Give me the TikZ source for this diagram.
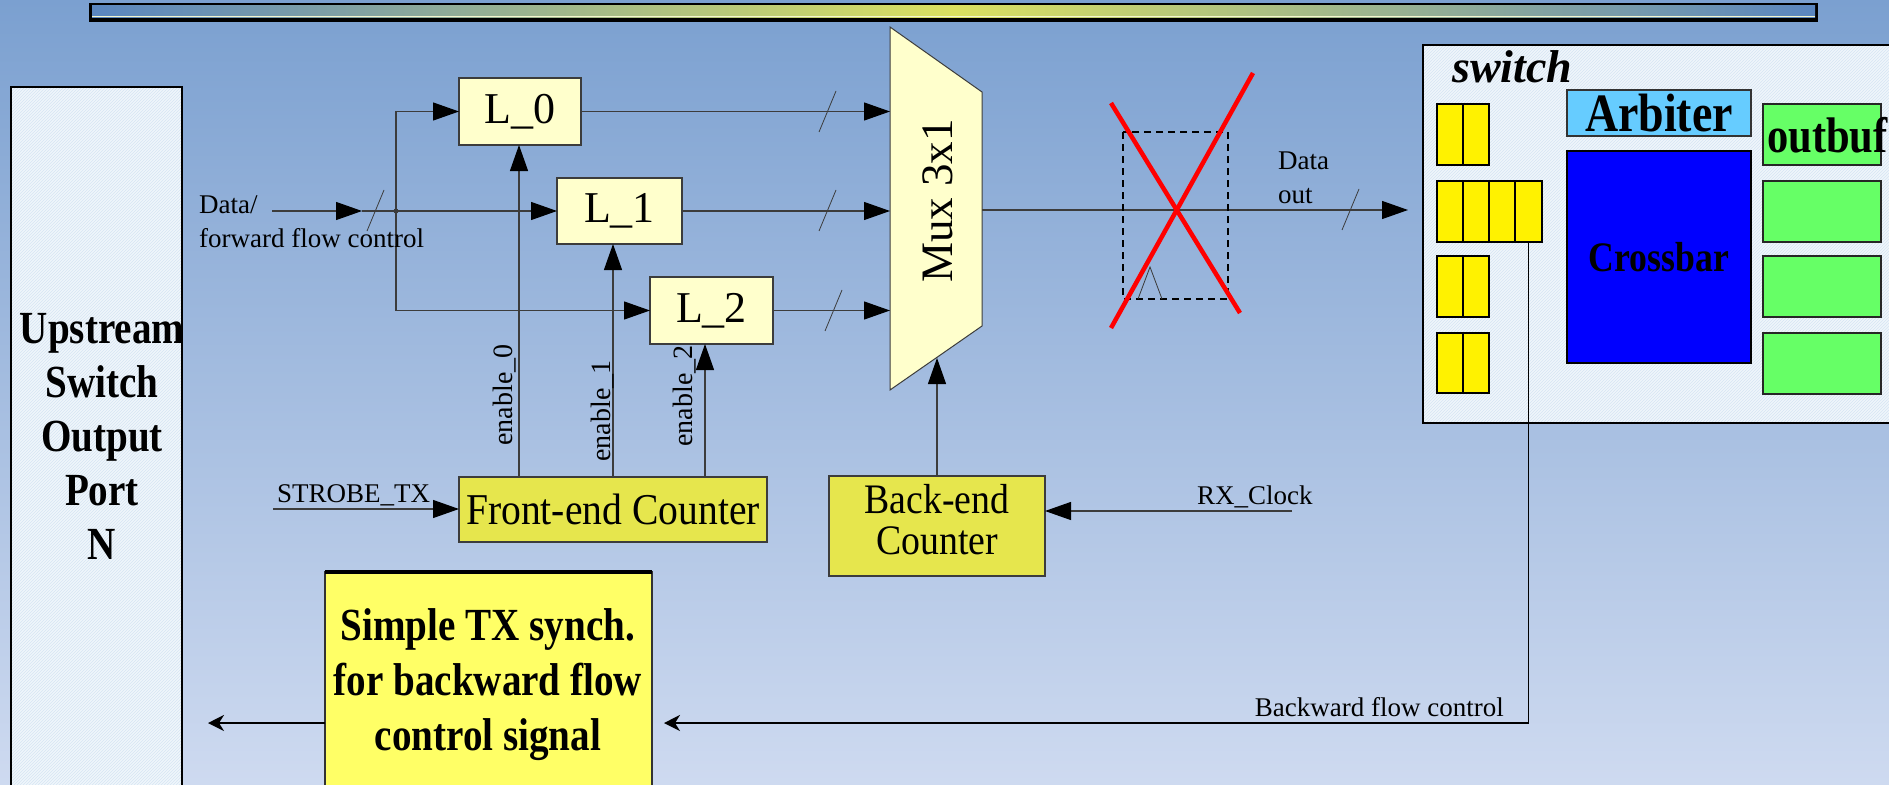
\documentclass[tikz,border=0pt]{standalone}
\usepackage{fontspec}
\setmainfont{Liberation Serif}
\newfontfamily\cond[FakeStretch=0.9]{Liberation Serif}
\newfontfamily\bcond[FakeStretch=0.85]{Liberation Serif}
\usetikzlibrary{arrows.meta,calc,patterns}
\definecolor{bgtop}{RGB}{123,160,208}
\definecolor{bgbot}{RGB}{206,218,240}
\definecolor{lyel}{RGB}{255,255,204}
\definecolor{cnt}{RGB}{230,230,77}
\definecolor{stx}{RGB}{255,255,102}
\definecolor{pale}{RGB}{240,246,251}
\definecolor{hatch}{RGB}{214,228,243}
\definecolor{arb}{RGB}{102,204,255}
\definecolor{xbar}{RGB}{0,0,255}
\definecolor{obuf}{RGB}{102,255,102}
\definecolor{wire}{RGB}{60,60,60}
\definecolor{barblue}{RGB}{90,134,192}
\definecolor{baryel}{RGB}{218,224,96}
\begin{document}
\begin{tikzpicture}[x=1pt,y=-1pt,
  ln/.style={draw=wire,line width=1.2pt},
  arr/.style={-{Triangle[length=26pt,width=18pt,color=black]}},
  sarr/.style={-{Stealth[length=16pt,width=16pt,inset=5pt]}},
  slash/.style={draw=wire,line width=0.8pt},
  box/.style={anchor=north west,inner sep=0pt,outer sep=0pt},
  hatched/.style={preaction={fill=pale},pattern=north east lines,pattern color=hatch},
  lbox/.style={box,draw=wire,line width=1.2pt,fill=lyel,font=\fontsize{44}{44}\selectfont},
  cbox/.style={box,draw=wire,line width=1.5pt,fill=cnt,font=\cond\fontsize{44}{39}\selectfont,align=center},
  small/.style={inner sep=0pt,font=\fontsize{27}{34}\selectfont},
  buf/.style={draw=black,line width=2pt,fill=yellow},
  bufn/.style={box,draw=black,line width=2pt,fill=yellow,minimum width=27pt,minimum height=61pt},
  obufn/.style={box,draw=black!85,line width=2pt,fill=obuf,minimum width=118pt,minimum height=61pt},
  btext/.style={font=\bcond\bfseries\fontsize{46}{55}\selectfont,align=center}
]
\useasboundingbox (0,0) rectangle (1889,784);
\shade[top color=bgtop,bottom color=bgbot] (0,0) rectangle (1889,784);
% top bar
\fill[black] (89,3) rectangle (1818,22);
\shade[left color=barblue,right color=barblue,middle color=baryel] (92,6) rectangle (1815,18);
\draw[white!70!baryel,line width=1pt] (92,17) -- (1815,17);
% upstream
\node[box,draw=black,line width=1.2pt,hatched,minimum width=171pt,minimum height=720pt] (up) at (11,87) {};
\node[btext,font=\bcond\bfseries\fontsize{46}{54}\selectfont] (uptext) at (102,436) {Upstream\\Switch\\Output\\Port\\N};
% L boxes
\node[lbox,minimum width=122pt,minimum height=67pt] (L0) at (459,78) {L\_0};
\node[lbox,minimum width=125pt,minimum height=66pt] (L1) at (557,178) {L\_1};
\node[lbox,minimum width=123pt,minimum height=67pt] (L2) at (650,277) {L\_2};
% mux
\coordinate (m1) at (890,27);
\coordinate (m2) at (982,92);
\coordinate (m3) at (982,326);
\coordinate (m4) at (890,390);
\draw[draw=wire,fill=lyel,line width=1pt] (m1) -- (m2) -- (m3) -- (m4) -- cycle;
\node[rotate=90,font=\fontsize{45}{45}\selectfont] (muxt) at (938,201) {Mux 3x1};
\coordinate (mi) at (890,0);
\coordinate (mo) at (982,210);
\coordinate (mb) at (937,358);
% data input
\coordinate (din) at (272,211);
\coordinate (dmid) at (362,211);
\coordinate (dot) at (396,211);
\draw[ln,arr] (din) -- (dmid);
\draw[ln] (dmid) -- (dot);
\fill[wire] (dot) circle (2.5pt);
\draw[slash] (367,231) -- (384,190);
\draw[ln,arr] (dot) |- (L0.west);
\draw[ln,arr] (dot) -- (L1.west);
\draw[ln,arr] (dot) |- (L2.west);
\node[small,anchor=west,align=left] (dinl) at (199,222) {Data/\\forward flow control};
% L outputs
\draw[ln,arr] (L0.east) -- (L0.east -| mi);
\draw[ln,arr] (L1.east) -- (L1.east -| mi);
\draw[ln,arr] (L2.east) -- (L2.east -| mi);
\draw[slash] (819,132) -- (836,91);
\draw[slash] (819,231) -- (836,190);
\draw[slash] (825,331) -- (842,290);
% front-end counter
\node[cbox,minimum width=308pt,minimum height=65pt] (FE) at (459,477) {Front-end Counter};
\coordinate (e0) at (519,477);
\coordinate (e1) at (613,477);
\coordinate (e2) at (705,477);
\draw[ln,arr] (e0) -- (e0 |- L0.south);
\draw[ln,arr] (e1) -- (e1 |- L1.south);
\draw[ln,arr] (e2) -- (e2 |- L2.south);
\node[rotate=90,inner sep=0pt,font=\fontsize{28}{28}\selectfont] (en0) at (505,395) {enable\_0};
\node[rotate=90,inner sep=0pt,font=\fontsize{28}{28}\selectfont] (en1) at (603,411) {enable\_1};
\node[rotate=90,inner sep=0pt,font=\fontsize{28}{28}\selectfont] (en2) at (685,396) {enable\_2};
\coordinate (st) at (273,509);
\draw[ln,arr] (st) -- (st -| FE.west);
\node[small,anchor=base west] (stl) at (277,502) {STROBE\_TX};
% back-end counter
\node[cbox,minimum width=216pt,minimum height=100pt] (BE) at (829,476) {};
\node[font=\cond\fontsize{42}{41}\selectfont,align=center,inner sep=0pt] (BEt) at (937,520) {Back-end\\Counter};
\draw[ln,arr] (BE.north) -- (mb);
\coordinate (rx) at (1292,511);
\draw[ln,arr] (rx) -- (rx -| BE.east);
\node[small,anchor=base west] (rxl) at (1197,504) {RX\_Clock};
% data out
\coordinate (dout) at (1408,210);
\draw[ln,arr] (mo) -- (dout);
\draw[slash] (1342,230) -- (1359,189);
\node[small,anchor=west,align=left] (doutl) at (1278,178) {Data\\out};
% crossed register
\draw[black,line width=1.3pt,dash pattern=on 7pt off 5pt] (1123,132) rectangle (1228,299);
\draw[wire,line width=0.8pt] (1138,299) -- (1150,267) -- (1162,299);
\draw[red,line width=4.5pt] (1111,103) -- (1240,313);
\draw[red,line width=4.5pt] (1253,73) -- (1111,328);
% switch
\node[box,draw=black,line width=2pt,hatched,minimum width=500pt,minimum height=378pt] (sw) at (1423,45) {};
\node[anchor=base west,inner sep=0pt,font=\bfseries\itshape\fontsize{46}{46}\selectfont] (swl) at (1452,82) {switch};
\draw[buf] (1437,104) rectangle (1463,165);
\draw[buf] (1463,104) rectangle (1489,165);
\draw[buf] (1437,181) rectangle (1463,242);
\draw[buf] (1463,181) rectangle (1489,242);
\draw[buf] (1489,181) rectangle (1515,242);
\node[bufn] (b2c4) at (1515,181) {};
\draw[buf] (1437,256) rectangle (1463,317);
\draw[buf] (1463,256) rectangle (1489,317);
\draw[buf] (1437,333) rectangle (1463,393);
\draw[buf] (1463,333) rectangle (1489,393);
\node[box,draw=black!80,line width=2pt,fill=arb,minimum width=184pt,minimum height=46pt,font=\bcond\bfseries\fontsize{54}{54}\selectfont] (arb) at (1567,90) {Arbiter};
\node[box,draw=black,line width=2pt,fill=xbar,minimum width=184pt,minimum height=212pt,font=\bcond\bfseries\fontsize{42}{42}\selectfont] (xb) at (1567,151) {Crossbar};
\node[obufn] (ob1) at (1763,104) {};
\node[obufn] (ob2) at (1763,181) {};
\node[obufn] (ob3) at (1763,256) {};
\node[obufn] (ob4) at (1763,333) {};
\node[anchor=base west,inner sep=0pt,font=\bcond\bfseries\fontsize{50}{50}\selectfont] (obl) at (1767,152) {outbuf};
% simple TX synch
\node[box,draw=black!80,line width=1.2pt,fill=stx,minimum width=327pt,minimum height=230pt] (STX) at (325,572) {};
\draw[black,line width=4pt] (STX.north west) -- (STX.north east);
\node[btext] (stxt) at (488,685) {Simple TX synch.\\for backward flow\\control signal};
\coordinate (bfy) at (0,723);
\coordinate (upl) at (208,723);
\draw[black,line width=1.4pt] (b2c4.south) -- (b2c4.south |- bfy);
\draw[black,line width=1.8pt,sarr,shorten >=12pt] (b2c4.south |- bfy) -- (STX.east |- bfy);
\draw[black,line width=1.8pt,sarr] (STX.west |- bfy) -- (upl);
\node[small,anchor=base east] (bfl) at (1504,716) {Backward flow control};
\end{tikzpicture}
\end{document}
